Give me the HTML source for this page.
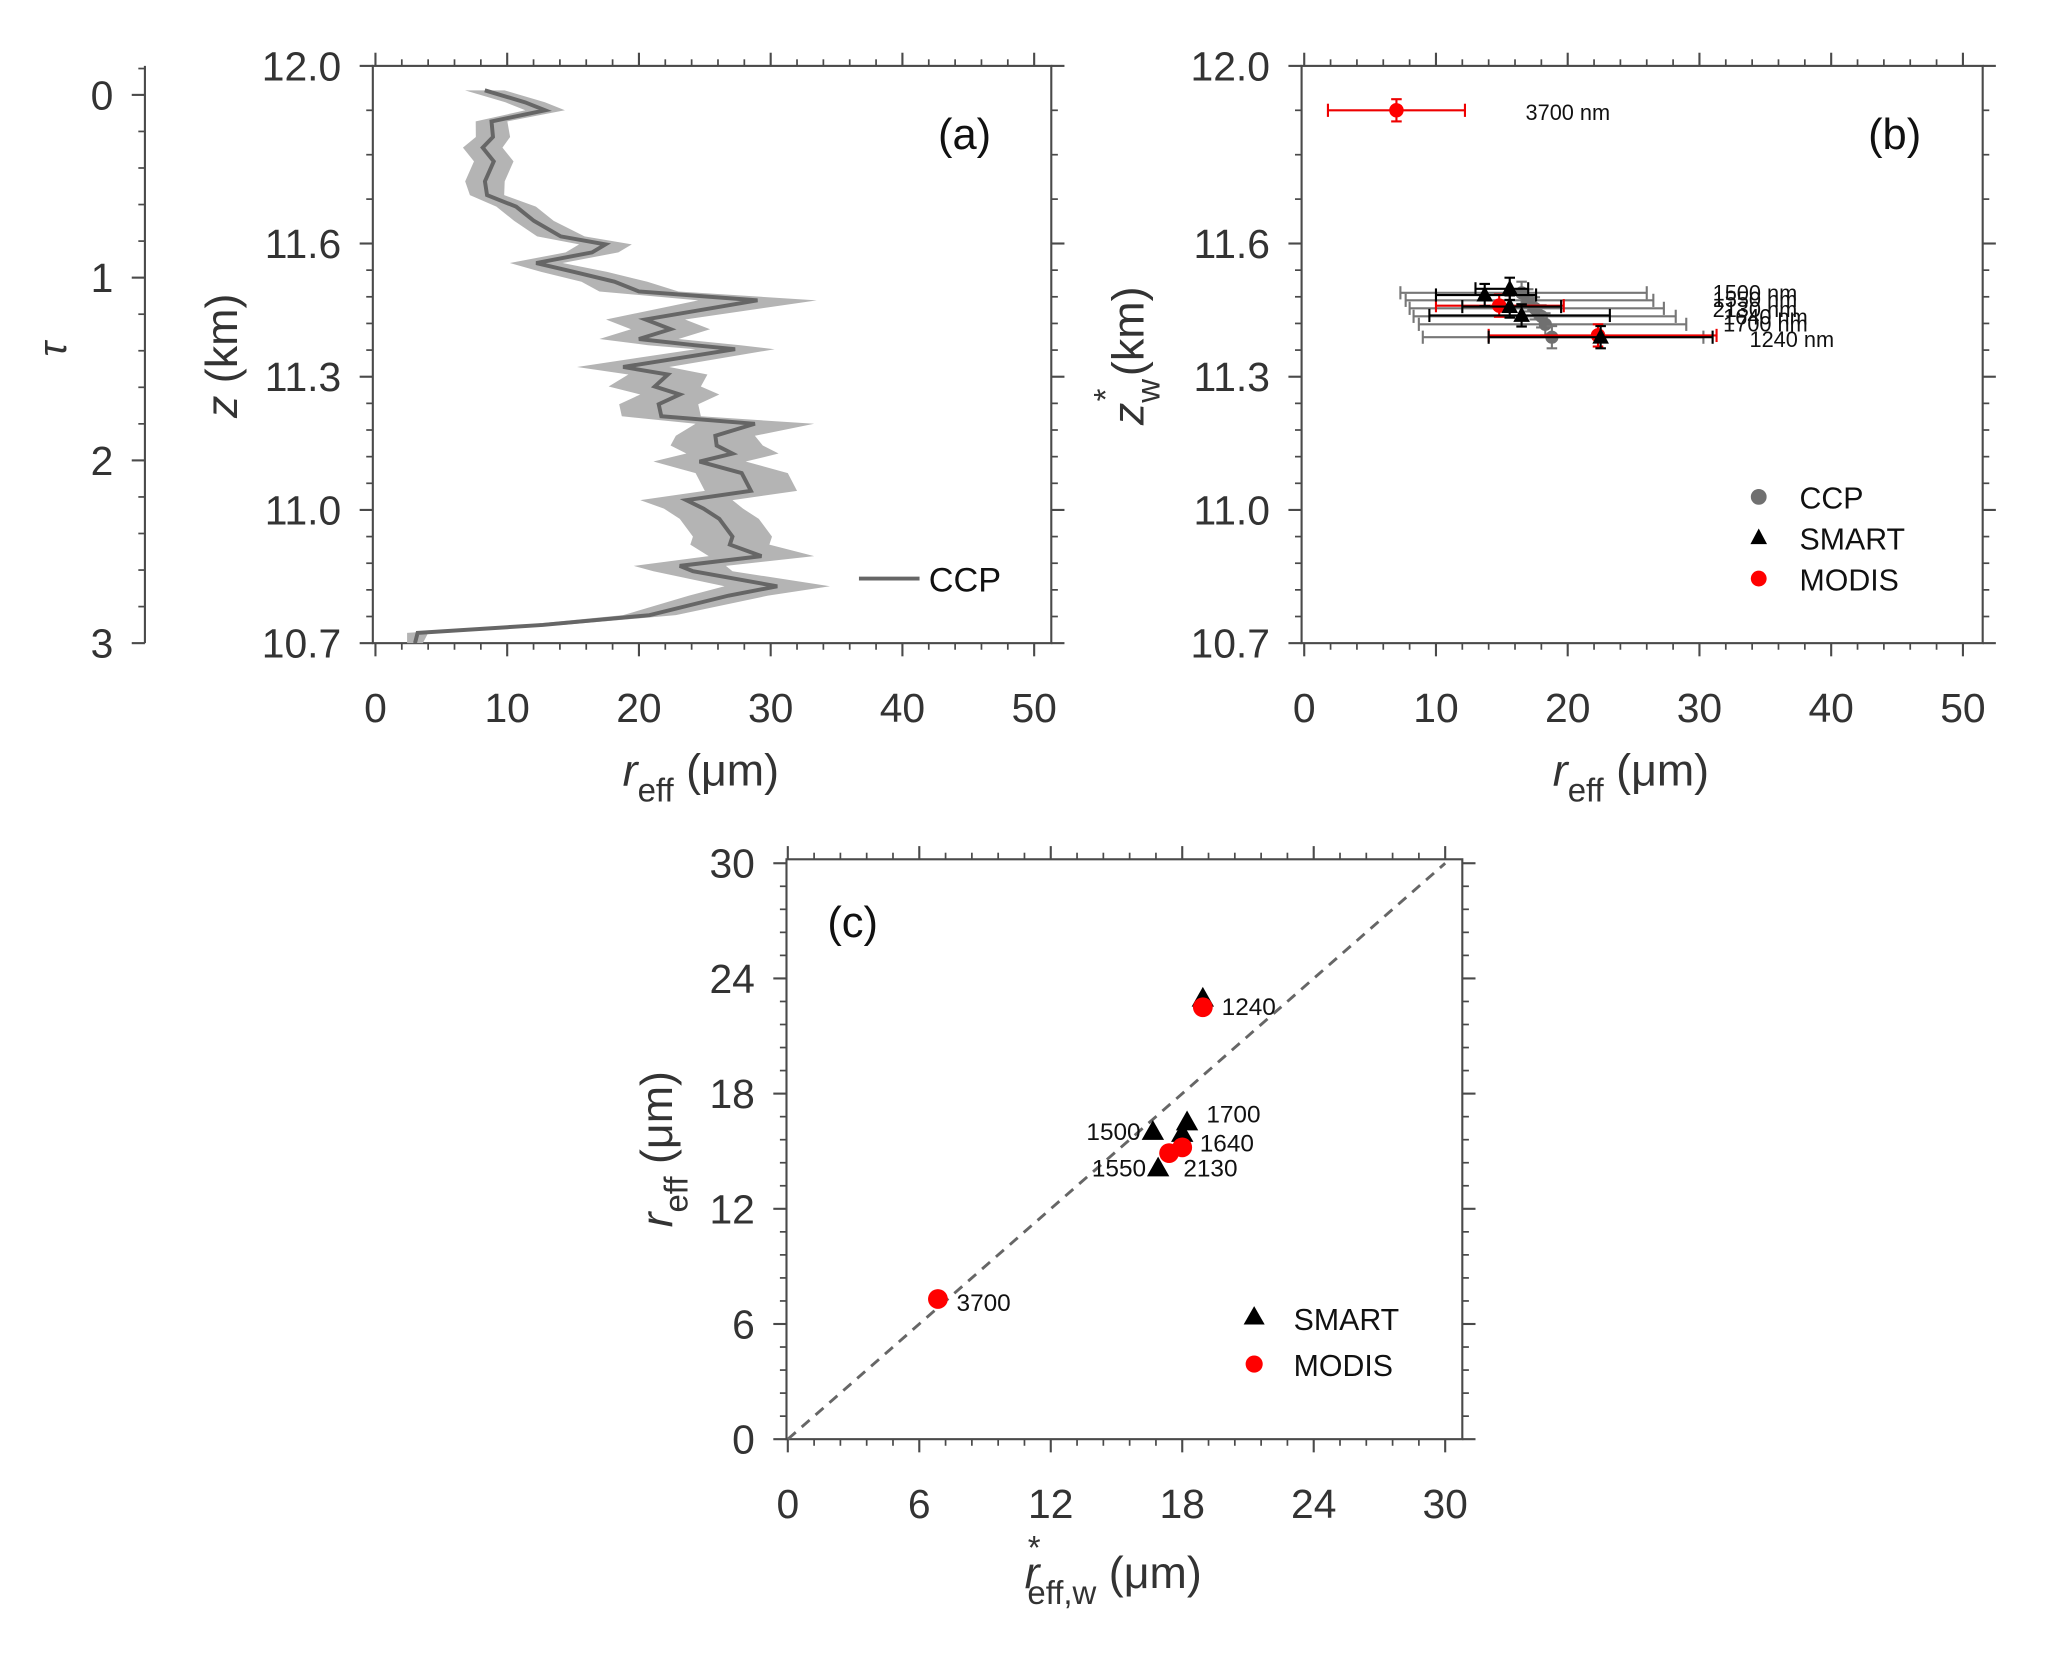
<!DOCTYPE html>
<html><head><meta charset="utf-8"><style>
html,body{margin:0;padding:0;background:#fff}
svg{display:block;font-family:"Liberation Sans",Arial,sans-serif}
</style></head><body>
<svg id="fig" width="2067" height="1654" viewBox="0 0 1569 1255" preserveAspectRatio="none" xmlns="http://www.w3.org/2000/svg">
<rect width="1569" height="1255" fill="#fff"/>
<g id="g"></g>
</svg>
<script>
// Panel (a) CCP profile
const profR=[8.3,11.36,12.88,8.81,8.92,8.14,8.98,8.31,8.47,10.68,12.03,14.07,17.46,16.44,12.2,15.08,18.14,20.0,29.0,20.5,22.4,20.0,24.2,27.3,18.8,22.2,21.2,23.1,21.5,21.7,28.8,25.8,25.9,27.1,24.6,27.8,28.5,23.6,24.9,26.1,27.1,26.9,29.3,23.1,24.1,30.5,26.8,20.8,12.7,3.2,3.0];
const profZ=[11.945,11.918,11.9,11.875,11.84,11.816,11.785,11.74,11.709,11.683,11.651,11.616,11.598,11.58,11.556,11.536,11.514,11.492,11.472,11.429,11.407,11.385,11.371,11.362,11.322,11.305,11.278,11.26,11.238,11.211,11.194,11.167,11.145,11.127,11.109,11.083,11.043,11.022,11.003,10.98,10.94,10.922,10.896,10.874,10.862,10.828,10.807,10.763,10.741,10.723,10.7];
const profErr=[1.5,1.5,1.5,1.2,1.3,1.5,1.5,1.5,1.3,1.5,1.5,1.8,2,2,2,2.5,2.5,3,4.5,3,3,3,3.5,3,3.5,3,3.5,3,3,3,4.5,3,3.5,3.5,3.5,3.5,3.5,3.5,3,3,3,3,4,3.5,3,4,3,2,1.5,0.8,0.6];
// Panel (b)
const ccpR=[16.5,17.0,17.5,18.0,18.3,18.8];
const ccpZ=[11.489,11.472,11.454,11.436,11.418,11.389];
const ccpLo=[7.3,7.7,8.0,8.3,8.7,9.0];
const ccpHi=[26.0,26.5,27.3,28.2,29.0,30.3];
const smartR=[13.7,15.6,15.6,16.5,22.5];
const smartZ=[11.484,11.498,11.458,11.438,11.389];
const smartLo=[10.0,13.0,12.0,9.5,14.0];
const smartHi=[17.6,17.0,19.5,23.2,31.0];
const modisR=[14.8,22.3,7.0];
const modisZ=[11.46,11.393,11.9];
const modisLo=[10.0,14.0,1.8];
const modisHi=[19.7,31.3,12.2];
const bLabels=["1500 nm","1550 nm","2130 nm","1640 nm","1700 nm","1240 nm"];
const bLabelZ=[11.49,11.475,11.452,11.435,11.42,11.385];
// Panel (c)
const cSmartX=[18.94,16.66,18.22,18.0,16.9];
const cSmartY=[22.94,16.0,16.5,15.9,14.1];
const cModisX=[18.94,17.4,18.0,6.85];
const cModisY=[22.5,14.9,15.2,7.3];
const cLabels=["1240","1700","1500","1640","1550","2130","3700"];
const cLabX=[19.8,19.1,16.1,18.8,16.35,18.05,7.7];
const cLabY=[22.5,16.9,16.0,15.4,14.1,14.1,7.1];
const cLabAnchor=["start","start","end","start","end","start","start"];

const NS="http://www.w3.org/2000/svg";
const G=document.getElementById('g');
function el(tag,attrs,parent,txt){const e=document.createElementNS(NS,tag);for(const k in attrs)e.setAttribute(k,attrs[k]);if(txt!==undefined)e.textContent=txt;(parent||G).appendChild(e);return e;}
const AX="#4a4a4a", TX="#333";
function lin(d0,d1,p0,p1){return v=>p0+(v-d0)/(d1-d0)*(p1-p0);}

const ax=lin(0,50,285,785), ay=lin(12,10.7,50,488);
const bx=lin(0,50,990,1490), by=ay;
const cx=lin(0,30,598,1097), cy=lin(0,30,1092,655);
const TF=31;

function frame(name,x0,x1,y0,y1){
  const r=el('rect',{x:x0,y:y0,width:x1-x0,height:y1-y0,fill:'none',stroke:AX,'stroke-width':1.6});
  
  
}
function xticks(name,sx,majors,minors,y0,y1,labelFn){
  const g=el('g',{});
  
  
  majors.forEach(v=>{const x=sx(v);
    el('line',{x1:x,x2:x,y1:y1,y2:y1+10,stroke:AX,'stroke-width':1.6},g);
    el('line',{x1:x,x2:x,y1:y0,y2:y0-10,stroke:AX,'stroke-width':1.6},g);
    el('text',{x:x,y:y1+60,'font-size':TF,fill:TX,'text-anchor':'middle'},g,labelFn(v));});
  minors.forEach(v=>{const x=sx(v);
    el('line',{x1:x,x2:x,y1:y1,y2:y1+5,stroke:AX,'stroke-width':1.3},g);
    el('line',{x1:x,x2:x,y1:y0,y2:y0-5,stroke:AX,'stroke-width':1.3},g);});
}
function yticks(name,sy,majors,minors,x0,x1,labelFn){
  const g=el('g',{});
  
  
  majors.forEach(v=>{const y=sy(v);
    el('line',{x1:x0,x2:x0-10,y1:y,y2:y,stroke:AX,'stroke-width':1.6},g);
    el('line',{x1:x1,x2:x1+10,y1:y,y2:y,stroke:AX,'stroke-width':1.6},g);
    el('text',{x:x0-24,y:y+11,'font-size':TF,fill:TX,'text-anchor':'end'},g,labelFn(v));});
  minors.forEach(v=>{const y=sy(v);
    el('line',{x1:x0,x2:x0-5,y1:y,y2:y,stroke:AX,'stroke-width':1.3},g);
    el('line',{x1:x1,x2:x1+5,y1:y,y2:y,stroke:AX,'stroke-width':1.3},g);});
}
const xMaj=[0,10,20,30,40,50], xMin=[];for(let v=2;v<51;v+=2)if(v%10)xMin.push(v);
const zMaj=[12.0,11.6,11.3,11.0,10.7];
const zMin=[11.9,11.8,11.7,11.54,11.48,11.42,11.36,11.24,11.18,11.12,11.06,10.94,10.88,10.82,10.76];

// ---- panel a
frame('panel-a-frame',283,798,50,488);
xticks('panel-a-x-ticks',ax,xMaj,xMin,50,488,v=>String(v));
yticks('panel-a-y-ticks',ay,zMaj,zMin,283,798,v=>v.toFixed(1));
let up=profR.map((r,i)=>ax(r+profErr[i])+','+ay(profZ[i]));
let dn=profR.map((r,i)=>ax(Math.max(0,r-profErr[i]))+','+ay(profZ[i])).reverse();
const band=el('polygon',{points:up.concat(dn).join(' '),fill:'#b4b4b4',stroke:'none'});


const pl=el('polyline',{points:profR.map((r,i)=>ax(r)+','+ay(profZ[i])).join(' '),fill:'none',stroke:'#666','stroke-width':3});


const lgA=el('g',{});


el('line',{x1:652,x2:698,y1:439,y2:439,stroke:'#666','stroke-width':3},lgA);
el('text',{x:705,y:449,'font-size':26,fill:'#111'},lgA,'CCP');
const pa=el('text',{x:712,y:113,'font-size':33,fill:'#111'},G,'(a)');


// tau axis
const ty=lin(0,3,72,488);
const tg=el('g',{});


el('line',{x1:110,x2:110,y1:50,y2:488,stroke:AX,'stroke-width':1.6},tg);
[0,1,2,3].forEach(v=>{el('line',{x1:110,x2:100,y1:ty(v),y2:ty(v),stroke:AX,'stroke-width':1.6},tg);
  el('text',{x:86,y:ty(v)+11,'font-size':TF,fill:TX,'text-anchor':'end'},tg,String(v));});
for(let v=0.2;v<3;v+=0.2){if(Math.abs(v-Math.round(v))<0.01)continue;el('line',{x1:110,x2:105,y1:ty(v),y2:ty(v),stroke:AX,'stroke-width':1.3},tg);}
el('line',{x1:110,x2:105,y1:52,y2:52,stroke:AX,'stroke-width':1.3},tg);
const tl=el('text',{x:0,y:0,'font-size':30,fill:TX,'font-style':'italic','text-anchor':'middle',transform:'translate(50,265) rotate(-90)'},G,'τ');


function title(name,x,y,rot,html){
  const t=el('text',{x:0,y:0,'font-size':34,fill:TX,'text-anchor':'middle',transform:`translate(${x},${y})`+(rot?' rotate(-90)':'')});
  t.innerHTML=html;
  
  
}
title('panel-a-y-title',180,270,true,'<tspan font-style="italic">z</tspan> (km)');
title('panel-a-x-title',532,596,false,'<tspan font-style="italic">r</tspan><tspan font-size="25" dy="12">eff</tspan><tspan dy="-12">  (μm)</tspan>');

// ---- panel b
frame('panel-b-frame',988,1505,50,488);
xticks('panel-b-x-ticks',bx,xMaj,xMin,50,488,v=>String(v));
yticks('panel-b-y-ticks',by,zMaj,zMin,988,1505,v=>v.toFixed(1));
function errbar(g,x,y,lo,hi,dz,col){
  el('line',{x1:bx(lo),x2:bx(hi),y1:by(y),y2:by(y),stroke:col,'stroke-width':1.6},g);
  [lo,hi].forEach(v=>el('line',{x1:bx(v),x2:bx(v),y1:by(y)-5,y2:by(y)+5,stroke:col,'stroke-width':1.6},g));
  el('line',{x1:bx(x),x2:bx(x),y1:by(y-dz),y2:by(y+dz),stroke:col,'stroke-width':1.6},g);
  [y-dz,y+dz].forEach(v=>el('line',{x1:bx(x)-4,x2:bx(x)+4,y1:by(v),y2:by(v),stroke:col,'stroke-width':1.6},g));
}
function tri(g,x,y,s,col){el('polygon',{points:`${x},${y-s} ${x-s*0.9},${y+s*0.7} ${x+s*0.9},${y+s*0.7}`,fill:col},g);}
ccpR.forEach((r,i)=>{const g=el('g',{});
  
  
  errbar(g,r,ccpZ[i],ccpLo[i],ccpHi[i],0.025,'#777');
  el('circle',{cx:bx(r),cy:by(ccpZ[i]),r:5,fill:'#707070'},g);});
modisR.forEach((r,i)=>{const g=el('g',{});
  
  
  errbar(g,r,modisZ[i],modisLo[i],modisHi[i],0.025,'#e00');
  el('circle',{cx:bx(r),cy:by(modisZ[i]),r:5.5,fill:'#f00'},g);});
smartR.forEach((r,i)=>{const g=el('g',{});
  
  
  errbar(g,r,smartZ[i],smartLo[i],smartHi[i],0.025,'#000');
  tri(g,bx(r),by(smartZ[i]),7,'#000');});
bLabels.forEach((t,i)=>{const e=el('text',{x:1300+(i>2?8:0)+(i==5?20:0),y:by(bLabelZ[i])+6,'font-size':16.5,fill:'#111'},G,t);
  
  });
const l37=el('text',{x:1158,y:91,'font-size':16.5,fill:'#111'},G,'3700 nm');


const lgB=el('g',{});


el('circle',{cx:1335,cy:377,r:6,fill:'#707070'},lgB);el('text',{x:1366,y:386,'font-size':23,fill:'#111'},lgB,'CCP');
tri(lgB,1335,408,7,'#000');el('text',{x:1366,y:417,'font-size':23,fill:'#111'},lgB,'SMART');
el('circle',{cx:1335,cy:439,r:6,fill:'#f00'},lgB);el('text',{x:1366,y:448,'font-size':23,fill:'#111'},lgB,'MODIS');
const pb=el('text',{x:1418,y:113,'font-size':33,fill:'#111'},G,'(b)');


title('panel-b-y-title',868,270,true,'<tspan font-style="italic">z</tspan><tspan font-size="25" dy="12">w</tspan><tspan font-size="25" dx="-17" dy="-32">*</tspan><tspan dy="20"> (km)</tspan>');
title('panel-b-x-title',1238,596,false,'<tspan font-style="italic">r</tspan><tspan font-size="25" dy="12">eff</tspan><tspan dy="-12"> (μm)</tspan>');

// ---- panel c
frame('panel-c-frame',597,1110,652,1092);
const cMaj=[0,6,12,18,24,30], cMin=[];for(let v=1.2;v<30.5;v+=1.2){if(Math.abs(v/6-Math.round(v/6))<0.01)continue;cMin.push(v);}
xticks('panel-c-x-ticks',cx,cMaj,cMin,652,1092,v=>String(v));
yticks('panel-c-y-ticks',cy,cMaj,cMin,597,1110,v=>String(v));
const dl=el('line',{x1:cx(0),y1:cy(0),x2:cx(30),y2:cy(30),stroke:'#666','stroke-width':2.2,'stroke-dasharray':'8,6'});


cSmartX.forEach((x,i)=>{const t=el('polygon',{points:`${cx(x)},${cy(cSmartY[i])-9} ${cx(x)-8.5},${cy(cSmartY[i])+6} ${cx(x)+8.5},${cy(cSmartY[i])+6}`,fill:'#000'});
  
  });
cModisX.forEach((x,i)=>{const c=el('circle',{cx:cx(x),cy:cy(cModisY[i]),r:7.5,fill:'#f00'});
  
  });
cLabels.forEach((t,i)=>{const e=el('text',{x:cx(cLabX[i]),y:cy(cLabY[i])+6,'font-size':18.5,fill:'#111','text-anchor':cLabAnchor[i]},G,t);
  
  });
const lgC=el('g',{});


el('polygon',{points:'952,991 944,1005 960,1005',fill:'#000'},lgC);el('text',{x:982,y:1009,'font-size':23,fill:'#111'},lgC,'SMART');
el('circle',{cx:952,cy:1035,r:6.5,fill:'#f00'},lgC);el('text',{x:982,y:1044,'font-size':23,fill:'#111'},lgC,'MODIS');
const pc=el('text',{x:628,y:711,'font-size':33,fill:'#111'},G,'(c)');


title('panel-c-y-title',510,872,true,'<tspan font-style="italic">r</tspan><tspan font-size="25" dy="12">eff</tspan><tspan dy="-12"> (μm)</tspan>');
title('panel-c-x-title',845,1205,false,'<tspan font-style="italic">r</tspan><tspan font-size="25" dy="-22" dx="-9">*</tspan><tspan font-size="25" dy="34" dx="-10">eff,w</tspan><tspan dy="-12"> (μm)</tspan>');
</script>
</body></html>
